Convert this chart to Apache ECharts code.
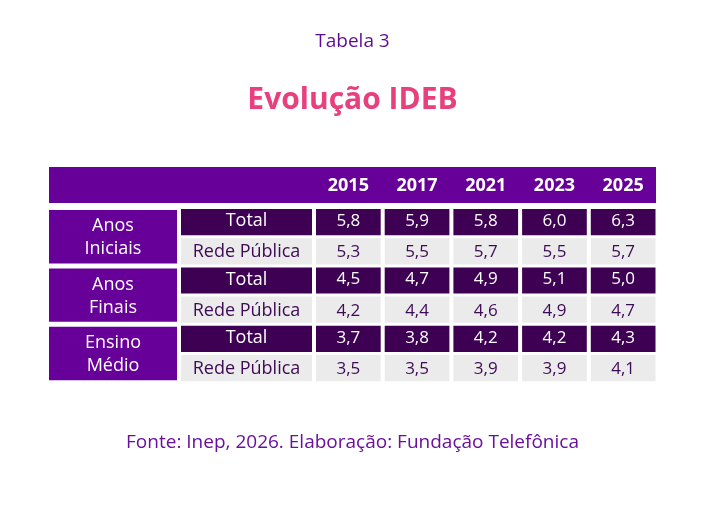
<!DOCTYPE html>
<html lang="pt">

<head>
  <meta charset="UTF-8">
  <title>Tabela 3 - Evolução IDEB</title>
  <script src="https://cdn.jsdelivr.net/npm/echarts@6/dist/echarts.min.js"></script>
  <style>
    html, body { margin: 0; padding: 0; background: #fff; }
    #chart { width: 705px; height: 522px; }
  </style>
</head>

<body>
  <div id="chart"></div>
  <script>
    // dados da tabela
    const years = ['2015', '2017', '2021', '2023', '2025'];
    const groups = ['Anos\nIniciais', 'Anos\nFinais', 'Ensino\nMédio'];
    const subRows = ['Total', 'Rede Pública'];
    const anosIniciaisTotal = [5.8, 5.9, 5.8, 6.0, 6.3];
    const anosIniciaisRede = [5.3, 5.5, 5.7, 5.5, 5.7];
    const anosFinaisTotal = [4.5, 4.7, 4.9, 5.1, 5.0];
    const anosFinaisRede = [4.2, 4.4, 4.6, 4.9, 4.7];
    const ensinoMedioTotal = [3.7, 3.8, 4.2, 4.2, 4.3];
    const ensinoMedioRede = [3.5, 3.5, 3.9, 3.9, 4.1];

    const FONT = '"Open Sans"';
    const PURPLE = '#660099';
    const DARK = '#3d0052';
    const GREY = '#ebebeb';

    // linhas: cada grupo tem Total + Rede Pública
    const rowSeries = [anosIniciaisTotal, anosIniciaisRede, anosFinaisTotal, anosFinaisRede, ensinoMedioTotal, ensinoMedioRede];
    const rowNames = [];
    groups.forEach(function (g) {
      subRows.forEach(function (s) { rowNames.push(g + '|' + s); });
    });

    const valueData = [];
    rowSeries.forEach(function (arr, r) {
      arr.forEach(function (v, c) {
        valueData.push([c, r, v, r % 2]);
      });
    });
    const subData = rowNames.map(function (n, r) { return [0, r, r % 2]; });
    const groupData = groups.map(function (g, i) { return [0, i]; });

    function fmt(v) {
      return v.toFixed(1).replace('.', ',');
    }

    // célula genérica
    function cellRender(padX, padY, fontSize, getText, getKind) {
      return function (params, api) {
        const c = api.coord([api.value(0), api.value(1)]);
        const s = api.size([1, 1]);
        const kind = getKind(api);
        const w = s[0] - padX, h = s[1] - padY;
        const fill = kind === 0 ? DARK : (kind === 1 ? GREY : PURPLE);
        const color = kind === 1 ? '#3d0a55' : '#fff';
        return {
          type: 'group',
          children: [{
            type: 'rect',
            shape: { x: c[0] - w / 2, y: c[1] - h / 2, width: w, height: h },
            style: { fill: fill }
          }, {
            type: 'text',
            style: {
              x: c[0], y: c[1] + (kind === 0 ? -1 : 1),
              text: getText(api, params),
              fill: color,
              font: fontSize + 'px ' + FONT,
              lineHeight: 23,
              align: 'center',
              verticalAlign: 'middle'
            }
          }]
        };
      };
    }

    let chart = echarts.init(document.getElementById('chart'));

    const hiddenCat = function (idx, data, extra) {
      return Object.assign({
        type: 'category', gridIndex: idx, data: data,
        axisLine: { show: false }, axisTick: { show: false },
        axisLabel: { show: false }, splitLine: { show: false }
      }, extra || {});
    };

    let option = {
      backgroundColor: '#fff',
      animation: false,
      title: [{
        text: 'Tabela 3', left: 'center', top: 27,
        textStyle: { color: '#5e0c96', fontSize: 19, fontWeight: 'normal', fontFamily: FONT }
      }, {
        text: 'Evolução IDEB', left: 'center', top: 80,
        textStyle: { color: '#e8407f', fontSize: 30, fontWeight: 'bold', fontFamily: FONT }
      }, {
        text: 'Fonte: Inep, 2026. Elaboração: Fundação Telefônica', left: 'center', top: 428,
        textStyle: { color: '#6a0f9e', fontSize: 19, fontWeight: 'normal', fontFamily: FONT }
      }],
      graphic: [{
        type: 'rect', z: 0,
        shape: { x: 49, y: 167, width: 607, height: 36 },
        style: { fill: PURPLE }
      }],
      grid: [
        { left: 314, width: 343.5, top: 207.5, height: 175.2 },
        { left: 181, width: 131, top: 207.5, height: 175.2 },
        { left: 49, width: 128, top: 207.5, height: 175.2 }
      ],
      xAxis: [
        hiddenCat(0, years, {
          position: 'top',
          axisLabel: {
            show: true, margin: 22, verticalAlign: 'middle',
            color: '#fff', fontSize: 18, fontWeight: 'bold', fontFamily: FONT
          },
          z: 10
        }),
        hiddenCat(1, ['sub']),
        hiddenCat(2, ['grupo'])
      ],
      yAxis: [
        hiddenCat(0, rowNames, { inverse: true }),
        hiddenCat(1, rowNames, { inverse: true }),
        hiddenCat(2, groups, { inverse: true })
      ],
      series: [{
        type: 'custom', xAxisIndex: 0, yAxisIndex: 0,
        renderItem: cellRender(4, 3, 17, function (api) { return fmt(api.value(2)); },
          function (api) { return api.value(3); }),
        data: valueData
      }, {
        type: 'custom', xAxisIndex: 1, yAxisIndex: 1,
        renderItem: cellRender(0, 3, 18, function (api) { return subRows[api.value(2)]; },
          function (api) { return api.value(2); }),
        data: subData
      }, {
        type: 'custom', xAxisIndex: 2, yAxisIndex: 2,
        renderItem: cellRender(0, 5, 18, function (api, params) { return groups[params.dataIndex]; },
          function () { return 2; }),
        data: groupData
      }]
    };
    chart.setOption(option);
  </script>
</body>

</html>
